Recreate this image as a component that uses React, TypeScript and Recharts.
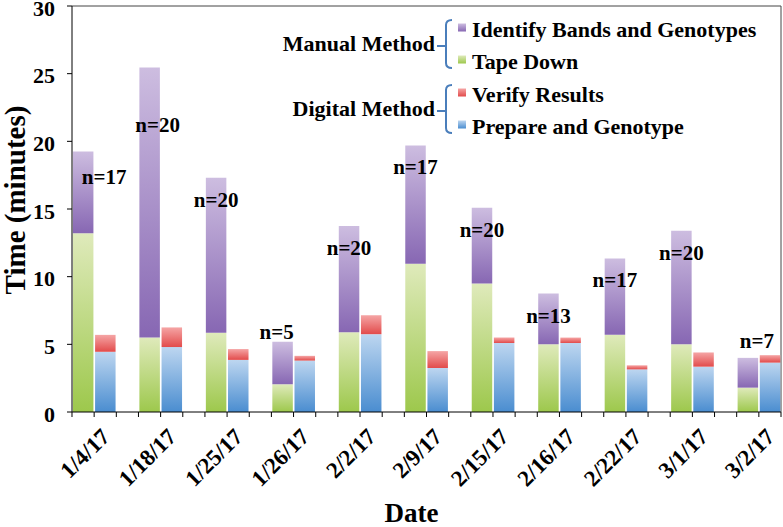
import React from 'react';
import {
  BarChart,
  Bar,
  XAxis,
  YAxis,
  CartesianGrid,
  Legend,
  LabelList,
} from 'recharts';

// Values (minutes)
const dates = [
  '1/4/17', '1/18/17', '1/25/17', '1/26/17', '2/2/17', '2/9/17',
  '2/15/17', '2/16/17', '2/22/17', '3/1/17', '3/2/17',
];
const tapeDown = [13.2, 5.5, 5.85, 2.05, 5.9, 10.95, 9.5, 5.0, 5.7, 5.0, 1.8];
const identifyBands = [6.05, 19.95, 11.45, 3.15, 7.85, 8.75, 5.6, 3.75, 5.65, 8.4, 2.2];
const prepareGenotype = [4.45, 4.8, 3.85, 3.8, 5.75, 3.25, 5.1, 5.1, 3.15, 3.35, 3.65];
const verifyResults = [1.25, 1.45, 0.8, 0.35, 1.4, 1.25, 0.4, 0.4, 0.3, 1.05, 0.55];
const sampleSizes = [17, 20, 20, 5, 20, 17, 20, 13, 17, 20, 7];
const yTicks = [0, 5, 10, 15, 20, 25, 30];

const rows = dates.map((date, i) => ({
  date,
  tape: tapeDown[i],
  identify: identifyBands[i],
  prepare: prepareGenotype[i],
  verify: verifyResults[i],
  n: sampleSizes[i],
}));

const legendGroups = [
  {
    title: 'Manual Method',
    items: [
      { name: 'Identify Bands and Genotypes', fill: 'url(#gIdentify)' },
      { name: 'Tape Down', fill: 'url(#gTape)' },
    ],
  },
  {
    title: 'Digital Method',
    items: [
      { name: 'Verify Results', fill: 'url(#gVerify)' },
      { name: 'Prepare and Genotype', fill: 'url(#gPrepare)' },
    ],
  },
];

const FONT = "'Liberation Serif', 'Times New Roman', Times, serif";
const SLOT = 22.16; // one bar plus its gap

// hand-placed "n=" labels in the original
const labelNudge: Record<number, { dx: number; dy: number }> = {
  0: { dx: 21, dy: 26 },
  1: { dx: 8, dy: 57 },
  3: { dx: -6, dy: -10 },
  10: { dx: 9, dy: -17 },
};

function DateTick(props: any) {
  const { x, y, payload } = props;
  const marks = [x - SLOT, x, x + SLOT];
  const ax = x + 17;
  const ay = y + 26;
  return (
    <g>
      {marks.map((mx, k) => (
        <line key={k} x1={mx} x2={mx} y1={y} y2={y + 5} stroke="#000" strokeWidth={1} />
      ))}
      <text
        x={ax}
        y={ay}
        textAnchor="end"
        transform={`rotate(-45 ${ax} ${ay})`}
        fontFamily={FONT}
        fontWeight="bold"
        fontSize={23}
        fill="#000"
      >
        {payload.value}
      </text>
    </g>
  );
}

function NLabel(props: any) {
  const { x, y, width, index, value } = props;
  const nudge = labelNudge[index] || { dx: 0, dy: 22 };
  return (
    <text
      x={x + width / 2 + nudge.dx}
      y={y + nudge.dy}
      textAnchor="middle"
      dominantBaseline="central"
      fontFamily={FONT}
      fontWeight="bold"
      fontSize={21}
      fill="#000"
    >
      {`n=${value}`}
    </text>
  );
}

function YTitle(props: any) {
  const { viewBox } = props;
  const cy = viewBox.y + viewBox.height / 2 - 9;
  return (
    <text
      x={25}
      y={cy}
      textAnchor="middle"
      transform={`rotate(-90 25 ${cy})`}
      fontFamily={FONT}
      fontWeight="bold"
      fontSize={29}
      fill="#000"
    >
      Time (minutes)
    </text>
  );
}

function XTitle(props: any) {
  const { viewBox } = props;
  return (
    <text
      x={viewBox.x + viewBox.width / 2 - 15}
      y={viewBox.y + viewBox.height - 5}
      textAnchor="middle"
      fontFamily={FONT}
      fontWeight="bold"
      fontSize={27}
      fill="#000"
    >
      Date
    </text>
  );
}

function MethodLegend() {
  return (
    <svg width={783} height={150} style={{ display: 'block' }}>
      {legendGroups.map((group, g) => {
        const top = 20 + g * 65;
        const base = [top + 16.5, top + 48.5];
        const dashY = top + 26;
        return (
          <g key={group.title}>
            <text
              x={435}
              y={top + 31}
              textAnchor="end"
              fontFamily={FONT}
              fontWeight="bold"
              fontSize={22}
              fill="#000"
            >
              {group.title}
            </text>
            <path
              d={`M452,${top} Q446,${top} 446,${top + 5} L446,${top + 43} Q446,${top + 48} 452,${top + 48} M437,${dashY} L446,${dashY}`}
              fill="none"
              stroke="#4a7ebb"
              strokeWidth={2}
            />
            {group.items.map((item, j) => (
              <g key={item.name}>
                <rect x={458} y={base[j] - 13} width={8} height={8} fill={item.fill} />
                <text
                  x={472}
                  y={base[j]}
                  fontFamily={FONT}
                  fontWeight="bold"
                  fontSize={22}
                  fill="#000"
                >
                  {item.name}
                </text>
              </g>
            ))}
          </g>
        );
      })}
    </svg>
  );
}

export default function App() {
  return (
    <div style={{ position: 'absolute', left: 0, top: 0, width: 783, height: 527, background: '#fff' }}>
      <BarChart
        width={783}
        height={527}
        data={rows}
        margin={{ top: 6, right: 2, left: 0, bottom: 0 }}
        barSize={20.5}
        barGap={1.66}
      >
        <defs>
          <linearGradient id="gIdentify" x1="0" y1="0" x2="0" y2="1">
            <stop offset="0%" stopColor="#cdbde0" />
            <stop offset="100%" stopColor="#8767b3" />
          </linearGradient>
          <linearGradient id="gTape" x1="0" y1="0" x2="0" y2="1">
            <stop offset="0%" stopColor="#dfeabb" />
            <stop offset="100%" stopColor="#9dc84c" />
          </linearGradient>
          <linearGradient id="gPrepare" x1="0" y1="0" x2="0" y2="1">
            <stop offset="0%" stopColor="#bdd6f0" />
            <stop offset="100%" stopColor="#4a8dd0" />
          </linearGradient>
          <linearGradient id="gVerify" x1="0" y1="0" x2="0" y2="1">
            <stop offset="0%" stopColor="#f5a5a5" />
            <stop offset="100%" stopColor="#e24b4b" />
          </linearGradient>
        </defs>
        <CartesianGrid
          stroke="#444"
          horizontalCoordinatesGenerator={({ offset }: any) => [offset.top]}
          verticalCoordinatesGenerator={({ offset }: any) => [offset.left + offset.width]}
        />
        <XAxis
          dataKey="date"
          interval={0}
          height={115}
          padding={{ left: -11.08, right: -11.08 }}
          tickLine={false}
          tickSize={0}
          tickMargin={0}
          axisLine={{ stroke: '#000' }}
          tick={<DateTick />}
          label={<XTitle />}
        />
        <YAxis
          domain={[0, 30]}
          ticks={yTicks}
          interval={0}
          width={72}
          tickSize={5}
          tickMargin={12}
          axisLine={{ stroke: '#000' }}
          tickLine={{ stroke: '#000' }}
          tick={{ fill: '#000', fontFamily: FONT, fontWeight: 'bold', fontSize: 22, dy: 2 }}
          label={<YTitle />}
        />
        <Legend
          layout="horizontal"
          verticalAlign="middle"
          align="center"
          wrapperStyle={{ position: 'absolute', left: 0, top: 0, width: 783, height: 150, pointerEvents: 'none' }}
          content={() => <MethodLegend />}
        />
        <Bar dataKey="tape" name="Tape Down" stackId="manual" fill="url(#gTape)" isAnimationActive={false} />
        <Bar dataKey="identify" name="Identify Bands and Genotypes" stackId="manual" fill="url(#gIdentify)" isAnimationActive={false}>
          <LabelList dataKey="n" content={<NLabel />} />
        </Bar>
        <Bar dataKey="prepare" name="Prepare and Genotype" stackId="digital" fill="url(#gPrepare)" isAnimationActive={false} />
        <Bar dataKey="verify" name="Verify Results" stackId="digital" fill="url(#gVerify)" isAnimationActive={false} />
      </BarChart>
    </div>
  );
}
